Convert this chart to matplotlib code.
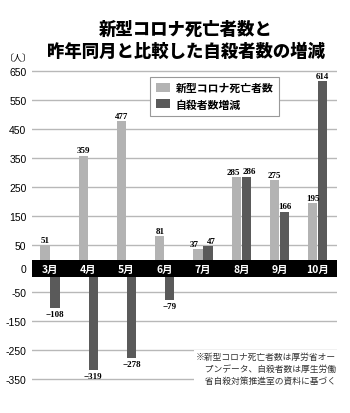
import matplotlib
matplotlib.use("Agg")
import matplotlib.pyplot as plt
from matplotlib.patches import Patch
import numpy as np

plt.rcParams['font.family'] = ['Noto Sans CJK JP', 'DejaVu Sans']

# data
months = ['3月', '4月', '5月', '6月', '7月', '8月', '9月', '10月']
covid_deaths = [51, 359, 477, 81, 37, 285, 275, 195]
suicide_diff = [-108, -319, -278, -79, 47, 286, 166, 614]
pos_ticks = [50, 150, 250, 350, 450, 550, 650]
neg_ticks = [-50, -150, -250, -350]

C_LIGHT = '#b3b3b3'
C_DARK = '#5a5a5a'
C_GRID = '#b8b8b8'
NUM_FONT = ['Liberation Sans Narrow', 'Liberation Sans', 'DejaVu Sans']
VAL_FONT = ['Liberation Serif', 'DejaVu Serif']

W, H = 350, 414
fig = plt.figure(figsize=(W / 100, H / 100), dpi=100)

def frac(x0, y0, x1, y1):
    # pixel box (top-left origin) -> figure fraction rect
    return [x0 / W, 1 - y1 / H, (x1 - x0) / W, (y1 - y0) / H]

ax_top = fig.add_axes(frac(32, 67.6, 337, 261))
ax_bot = fig.add_axes(frac(32, 278, 337, 391.4))
ax_band = fig.add_axes(frac(32, 261, 337, 278))

x = np.arange(len(months))
bw = 0.24
off = 0.13
xlim = (-0.47, len(months) - 0.5)

for ax, ylim, ticks in ((ax_top, (0, 665), pos_ticks), (ax_bot, (-390, 0), neg_ticks)):
    ax.bar(x - off, covid_deaths, bw, color=C_LIGHT, zorder=3)
    ax.bar(x + off, suicide_diff, bw, color=C_DARK, zorder=3)
    ax.set_xlim(*xlim)
    ax.set_ylim(*ylim)
    ax.set_yticks(ticks)
    ax.set_yticklabels([str(t) for t in ticks], family=NUM_FONT, fontsize=7.5)
    ax.tick_params(axis='y', length=0, pad=4)
    ax.set_xticks([])
    for s in ax.spines.values():
        s.set_visible(False)
    for t in ticks:
        ax.axhline(t, color=C_GRID, lw=1, zorder=1)

# value labels (pushed apart when both bars end at about the same height)
val_kw = dict(textcoords='offset points', ha='center', family=VAL_FONT,
              fontweight='bold', fontsize=6.5)
for i in range(len(months)):
    a, v = covid_deaths[i], suicide_diff[i]
    dx = 2.5 if (v > 0 and abs(a - v) < 30) else 0
    ax_top.annotate(str(a), (x[i] - off, a), xytext=(-dx, 1), va='bottom', **val_kw)
    if v > 0:
        ax_top.annotate(str(v), (x[i] + off, v), xytext=(dx, 1), va='bottom', **val_kw)
    else:
        ax_bot.annotate('\u2212' + str(-v), (x[i] + off, v), xytext=(0, -1.5),
                        va='top', **val_kw)

# black band at zero with month names
ax_band.set_facecolor('black')
ax_band.set_xlim(*xlim)
ax_band.set_ylim(0, 1)
ax_band.set_xticks([])
ax_band.set_yticks([0.5])
ax_band.set_yticklabels(['0'], family=NUM_FONT, fontsize=7.5)
ax_band.tick_params(axis='y', length=0, pad=4)
for s in ax_band.spines.values():
    s.set_visible(False)
for i, m in enumerate(months):
    ax_band.text(i, 0.5, m, color='white', ha='center', va='center',
                 fontsize=7.5, fontweight='bold')

# title and unit
fig.text(186 / W, 1 - 30 / H, '新型コロナ死亡者数と', ha='center', va='center',
         fontsize=12.5, fontweight='heavy')
fig.text(186 / W, 1 - 52 / H, '昨年同月と比較した自殺者数の増減', ha='center', va='center',
         fontsize=12.5, fontweight='heavy')
fig.text(5 / W, 1 - 59 / H, '〔人〕', ha='left', va='center', fontsize=6.5)

# legend
handles = [Patch(facecolor=C_LIGHT, edgecolor='none', label='新型コロナ死亡者数'),
           Patch(facecolor=C_DARK, edgecolor='none', label='自殺者数増減')]
leg = fig.legend(handles=handles, loc='upper left', bbox_to_anchor=(150 / W, 1 - 78 / H),
                 prop={'size': 7.8, 'weight': 'bold'}, frameon=True, fancybox=False,
                 edgecolor='#999999', framealpha=1, borderpad=0.55, handlelength=1.3,
                 handleheight=0.9, handletextpad=0.5, labelspacing=0.55, borderaxespad=0)
leg.get_frame().set_linewidth(0.8)

# source note
note = ('※新型コロナ死亡者数は厚労省オー\n'
        '\u3000プンデータ、自殺者数は厚生労働\n'
        '\u3000省自殺対策推進室の資料に基づく')
fig.text(196 / W, 1 - 353 / H, note, ha='left', va='top', fontsize=6.3,
         color='#333333', linespacing=1.45,
         bbox=dict(facecolor='white', edgecolor='none', pad=1.5), zorder=10)

fig.savefig('out.png', dpi=100)
